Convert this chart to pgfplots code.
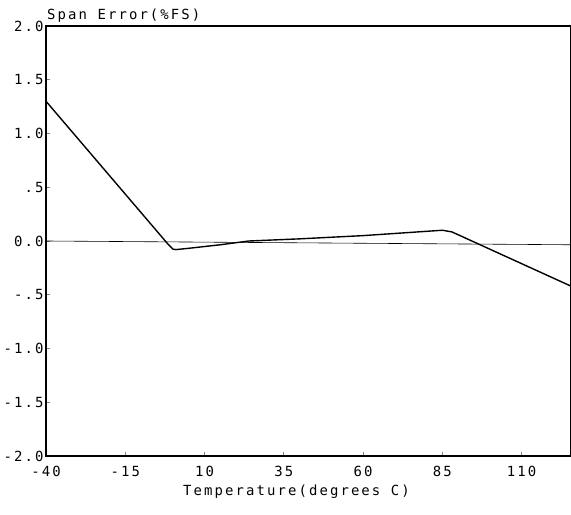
\documentclass[border=0pt]{standalone}
\usepackage{fontspec}
\setmainfont{DejaVu Sans Mono}[LetterSpace=15]
\usepackage{pgfplots}
\pgfplotsset{compat=1.18}
\begin{document}
\begin{tikzpicture}
\useasboundingbox (-46bp,-59bp) rectangle (525bp,456bp);
\begin{axis}[
  scale only axis, width=525bp, height=430bp,
  anchor=south west, at={(0,0)},
  xmin=-40, xmax=125.6, ymin=-2, ymax=2,
  axis line style={line width=1.1pt},
  xtick={-40,-15,10,35,60,85,110},
  xticklabels={-40,-15,10,35,60,85,110},
  ytick={-2,-1.5,-1,-0.5,0,0.5,1,1.5,2},
  yticklabels={-2.0,-1.5,-1.0,-.5,0.0,.5,1.0,1.5,2.0},
  tick align=inside, major tick length=4bp,
  tick style={line width=0.8pt},
  xtick pos=bottom, ytick pos=left,
  ticklabel style={font=\fontsize{14}{14}\selectfont},
  xticklabel style={yshift=-7bp},
  yticklabel style={xshift=1bp},
  /pgf/number format/assume math mode=true,
  clip=false,
]
\addplot[black, line width=0.6pt] coordinates {(-40,0) (125.6,-0.035)};
\addplot[black, line width=1.4pt] coordinates {
  (-40,1.3) (-1.5,-0.03) (0,-0.075) (1,-0.08) (5,-0.068) (15,-0.035)
  (24,0) (40,0.02) (60,0.05) (75,0.08) (85,0.1) (88,0.085) (125.6,-0.42)};
\end{axis}
\node[anchor=base west, font=\fontsize{14}{14}\selectfont, inner sep=0pt]
  at (1bp,436bp) {Span Error(\%FS)};
\node[anchor=west, font=\fontsize{14}{14}\selectfont, inner sep=0pt]
  at (137bp,-36bp) {Temperature(degrees C)};
\end{tikzpicture}
\end{document}
